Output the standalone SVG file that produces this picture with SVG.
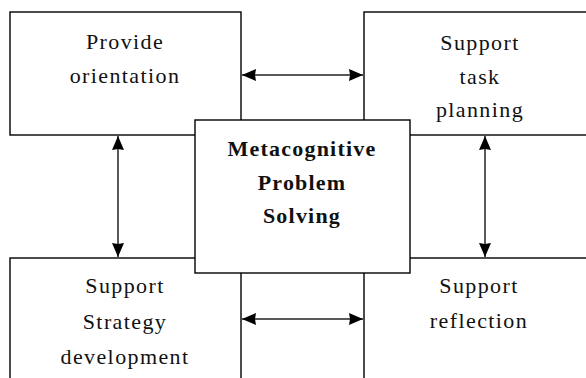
<svg xmlns="http://www.w3.org/2000/svg" width="586" height="378" viewBox="0 0 586 378">
<style>
.box{fill:#fff;stroke:#000;stroke-width:1.4}
.t{font-family:"Liberation Serif","Times New Roman",serif;font-size:22px;letter-spacing:1.4px;text-anchor:middle;fill:#111}
.b{font-weight:bold;letter-spacing:1.2px}
.c{stroke:#222;stroke-width:1.5;fill:none;marker-start:url(#ah);marker-end:url(#ah)}
</style>
<defs>
<marker id="ah" viewBox="0 0 14 12" refX="14" refY="6" markerWidth="14" markerHeight="12" markerUnits="userSpaceOnUse" orient="auto-start-reverse">
<path d="M0,0 L14,6 L0,12 L1,6 Z" fill="#000"/>
</marker>
</defs>
<g id="provide-orientation">
<rect class="box" x="10" y="12" width="231" height="123"/>
<text class="t" x="125" y="49">Provide</text>
<text class="t" x="125" y="83">orientation</text>
</g>
<g id="support-task-planning">
<rect class="box" x="364" y="12" width="240" height="123"/>
<text class="t" x="480" y="50">Support</text>
<text class="t" x="480" y="84">task</text>
<text class="t" x="480" y="117">planning</text>
</g>
<g id="support-strategy-development">
<rect class="box" x="10" y="258" width="231" height="140"/>
<text class="t" x="125" y="293">Support</text>
<text class="t" x="125" y="329">Strategy</text>
<text class="t" x="125" y="364">development</text>
</g>
<g id="support-reflection">
<rect class="box" x="364" y="258" width="240" height="140"/>
<text class="t" x="479" y="293">Support</text>
<text class="t" x="479" y="328">reflection</text>
</g>
<g id="connectors">
<line class="c" x1="242" y1="75" x2="363" y2="75"/>
<line class="c" x1="242" y1="319" x2="363" y2="319"/>
<line class="c" x1="118" y1="136" x2="118" y2="257"/>
<line class="c" x1="485" y1="136" x2="485" y2="257"/>
</g>
<g id="metacognitive-problem-solving">
<rect class="box" x="195" y="120" width="215" height="153"/>
<text class="t b" x="302" y="156">Metacognitive</text>
<text class="t b" x="302" y="190">Problem</text>
<text class="t b" x="302" y="223">Solving</text>
</g>
</svg>
